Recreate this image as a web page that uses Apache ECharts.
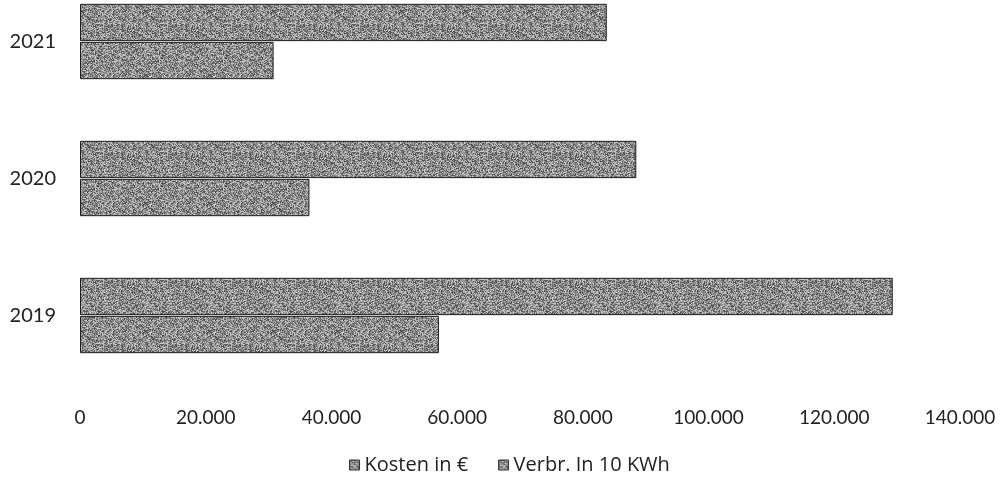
<!DOCTYPE html>
<html>
<head>
<meta charset="utf-8">
<script src="https://cdn.jsdelivr.net/npm/echarts@6/dist/echarts.min.js"></script>
<style>
html,body{margin:0;padding:0;background:#fff;}
#chart{width:1000px;height:482px;}
</style>
</head>
<body>
<div id="chart"></div>
<script>
const categories = ['2021', '2020', '2019'];
const seriesNames = ['Kosten in €', 'Verbr. In 10 KWh'];
const kosten = [83800, 88500, 129300];
const verbrauch = [30800, 36500, 57100];
const xTicks = [0, 20000, 40000, 60000, 80000, 100000, 120000, 140000];

function makeTexture() {
  const c = document.createElement('canvas');
  c.width = 64; c.height = 64;
  const ctx = c.getContext('2d');
  const img = ctx.createImageData(64, 64);
  for (let y = 0; y < 64; y++) {
    for (let x = 0; x < 64; x++) {
      let h = (x * 374761393 + y * 668265263) >>> 0;
      h = ((h ^ (h >>> 13)) * 1274126177) >>> 0;
      h = (h ^ (h >>> 16)) >>> 0;
      const v = 70 + (h % 140);
      const i = (y * 64 + x) * 4;
      img.data[i] = v; img.data[i + 1] = v; img.data[i + 2] = v; img.data[i + 3] = 255;
    }
  }
  ctx.putImageData(img, 0, 0);
  return c;
}
const tex = makeTexture();
const fill = { image: tex, repeat: 'repeat' };

const fmt = v => String(v).replace(/\B(?=(\d{3})+(?!\d))/g, '.');

const chart = echarts.init(document.getElementById('chart'));
chart.setOption({
  animation: false,
  backgroundColor: '#ffffff',
  textStyle: { fontFamily: 'Lato, sans-serif' },
  grid: { left: 80, width: 880, top: -27, height: 411, containLabel: false, outerBoundsMode: 'none' },
  legend: {
    data: seriesNames,
    top: 450,
    left: 344,
    itemWidth: 10,
    itemHeight: 10,
    itemGap: 30,
    icon: 'rect',
    textStyle: { fontSize: 20, color: '#222', fontFamily: 'Open Sans, sans-serif' },
    itemStyle: { borderColor: '#333', borderWidth: 1 }
  },
  xAxis: {
    type: 'value',
    min: xTicks[0],
    max: xTicks[xTicks.length - 1],
    interval: xTicks[1] - xTicks[0],
    axisLine: { show: false },
    axisTick: { show: false },
    splitLine: { show: false },
    axisLabel: { fontSize: 19, color: '#222', margin: 24, formatter: fmt }
  },
  yAxis: {
    type: 'category',
    data: categories,
    inverse: true,
    axisLine: { show: false },
    axisTick: { show: false },
    splitLine: { show: false },
    axisLabel: { fontSize: 20, color: '#222', margin: 24 }
  },
  series: [
    {
      name: seriesNames[0],
      type: 'bar',
      data: kosten,
      barGap: '2%',
      barCategoryGap: '45%',
      itemStyle: { color: fill, borderColor: '#1e1e1e', borderWidth: 1 }
    },
    {
      name: seriesNames[1],
      type: 'bar',
      data: verbrauch,
      barGap: '2%',
      barCategoryGap: '45%',
      itemStyle: { color: fill, borderColor: '#1e1e1e', borderWidth: 1 }
    }
  ]
});
</script>
</body>
</html>
